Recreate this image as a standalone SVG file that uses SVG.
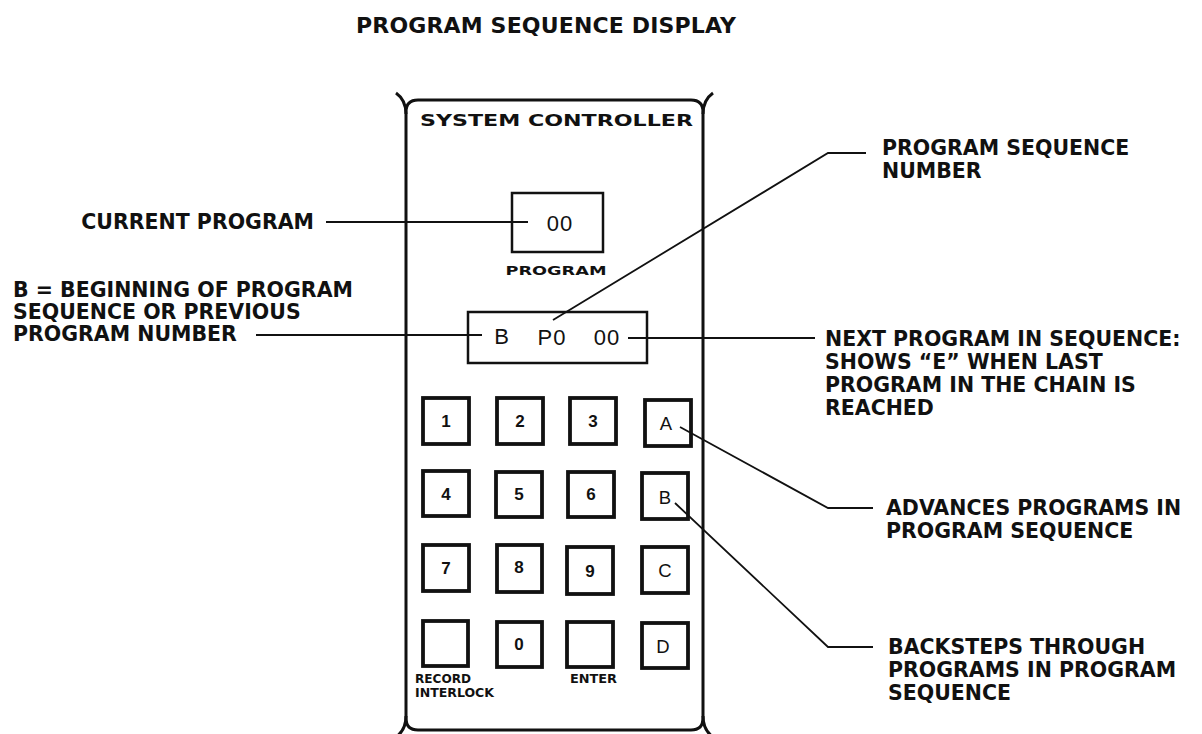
<svg xmlns="http://www.w3.org/2000/svg" width="1202" height="734" viewBox="0 0 1202 734">
<style>
.lbl{font-family:"DejaVu Sans","Liberation Sans",sans-serif;font-weight:bold;font-size:20.5px;fill:#111}
.title{font-family:"DejaVu Sans","Liberation Sans",sans-serif;font-weight:bold;font-size:22px;fill:#111}
.panel{font-family:"DejaVu Sans","Liberation Sans",sans-serif;font-weight:bold;fill:#111}
.disp{font-family:"Liberation Sans",Arial,sans-serif;font-size:22px;fill:#111;letter-spacing:1px}
.key rect{fill:#fff;stroke:#111;stroke-width:3.8}
.key text{font-family:"Liberation Sans",Arial,sans-serif;font-weight:bold;font-size:17px;fill:#111;text-anchor:middle}
.ltr text{font-weight:normal;font-size:18.5px}
.frame{fill:none;stroke:#111;stroke-width:3}
.box{fill:#fff;stroke:#111;stroke-width:2.5}
.lead{fill:none;stroke:#111;stroke-width:1.8}
</style>
<rect width="1202" height="734" fill="#fff"/>
<text class="title" x="546" y="33" text-anchor="middle" textLength="380">PROGRAM SEQUENCE DISPLAY</text>

<g id="controller">
<path class="frame" d="M406,112 Q406,100 418,100 L691,100 Q703,100 703,112 L703,718 Q703,730 691,730 L418,730 Q406,730 406,718 Z"/>
<path class="frame" d="M406,114 Q406,100 396,93 M703,114 Q703,100 713,93 M406,716 Q406,730 396,737 M703,716 Q703,730 713,737"/>
<text class="panel" x="420" y="126" font-size="15" textLength="273" lengthAdjust="spacingAndGlyphs">SYSTEM CONTROLLER</text>
</g>

<g id="program-display">
<rect class="box" x="512" y="193" width="91" height="59"/>
<text class="disp" x="560" y="231" text-anchor="middle">00</text>
<text class="panel" x="556" y="275" font-size="12" text-anchor="middle" textLength="101" lengthAdjust="spacingAndGlyphs">PROGRAM</text>
</g>

<g id="sequence-display">
<rect class="box" x="468" y="312" width="179" height="51"/>
<text class="disp" x="502" y="344" text-anchor="middle">B</text>
<text class="disp" x="552" y="345" text-anchor="middle">P0</text>
<text class="disp" x="607" y="345" text-anchor="middle">00</text>
</g>

<g id="keypad">
<g class="key" id="key-1"><rect x="423" y="398" width="46" height="46"/><text x="446" y="427">1</text></g>
<g class="key" id="key-2"><rect x="497" y="398" width="46" height="46"/><text x="520" y="427">2</text></g>
<g class="key" id="key-3"><rect x="570" y="398" width="46" height="46"/><text x="593" y="427">3</text></g>
<g class="key ltr" id="key-A"><rect x="645" y="400" width="46" height="46"/><text x="666" y="430">A</text></g>
<g class="key" id="key-4"><rect x="423" y="471" width="46" height="45"/><text x="446" y="500">4</text></g>
<g class="key" id="key-5"><rect x="496" y="472" width="46" height="45"/><text x="519" y="500">5</text></g>
<g class="key" id="key-6"><rect x="568" y="472" width="46" height="45"/><text x="591" y="500">6</text></g>
<g class="key ltr" id="key-B"><rect x="642" y="473" width="46" height="46"/><text x="665" y="504">B</text></g>
<g class="key" id="key-7"><rect x="423" y="545" width="46" height="46"/><text x="446" y="574">7</text></g>
<g class="key" id="key-8"><rect x="497" y="545" width="45" height="47"/><text x="519" y="573">8</text></g>
<g class="key" id="key-9"><rect x="567" y="547" width="46" height="47"/><text x="590" y="577">9</text></g>
<g class="key ltr" id="key-C"><rect x="642" y="547" width="46" height="46"/><text x="665" y="577">C</text></g>
<g class="key" id="key-record"><rect x="423" y="621" width="45" height="45"/></g>
<g class="key" id="key-0"><rect x="497" y="622" width="45" height="45"/><text x="519" y="650">0</text></g>
<g class="key" id="key-enter"><rect x="567" y="622" width="46" height="45"/></g>
<g class="key ltr" id="key-D"><rect x="642" y="623" width="46" height="45"/><text x="663" y="653">D</text></g>
<text class="panel" x="415" y="683" font-size="11.5" textLength="56" lengthAdjust="spacingAndGlyphs">RECORD</text>
<text class="panel" x="415" y="697" font-size="11.5" textLength="79" lengthAdjust="spacingAndGlyphs">INTERLOCK</text>
<text class="panel" x="570" y="683" font-size="11.5" textLength="47" lengthAdjust="spacingAndGlyphs">ENTER</text>
</g>

<g id="connectors">
<path class="lead" d="M326,222 L528,222"/>
<path class="lead" d="M256,335 L482,335"/>
<path class="lead" d="M628,338 L815,338"/>
<path class="lead" d="M553,320 L828,153 L866,153"/>
<path class="lead" d="M680,427 L828,508 L873,508"/>
<path class="lead" d="M675,503 L828,647 L873,647"/>
</g>

<g id="label-current">
<text class="lbl" x="314" y="229" text-anchor="end">CURRENT PROGRAM</text>
</g>
<g id="label-b">
<text class="lbl" x="13" y="297">B = BEGINNING OF PROGRAM</text>
<text class="lbl" x="13" y="319">SEQUENCE OR PREVIOUS</text>
<text class="lbl" x="13" y="341">PROGRAM NUMBER</text>
</g>
<g id="label-seqnum">
<text class="lbl" x="882" y="155">PROGRAM SEQUENCE</text>
<text class="lbl" x="882" y="178">NUMBER</text>
</g>
<g id="label-next">
<text class="lbl" x="825" y="346">NEXT PROGRAM IN SEQUENCE:</text>
<text class="lbl" x="825" y="369">SHOWS “E” WHEN LAST</text>
<text class="lbl" x="825" y="392">PROGRAM IN THE CHAIN IS</text>
<text class="lbl" x="825" y="415">REACHED</text>
</g>
<g id="label-advances">
<text class="lbl" x="886" y="515">ADVANCES PROGRAMS IN</text>
<text class="lbl" x="886" y="538">PROGRAM SEQUENCE</text>
</g>
<g id="label-backsteps">
<text class="lbl" x="888" y="654">BACKSTEPS THROUGH</text>
<text class="lbl" x="888" y="677">PROGRAMS IN PROGRAM</text>
<text class="lbl" x="888" y="700">SEQUENCE</text>
</g>
</svg>
